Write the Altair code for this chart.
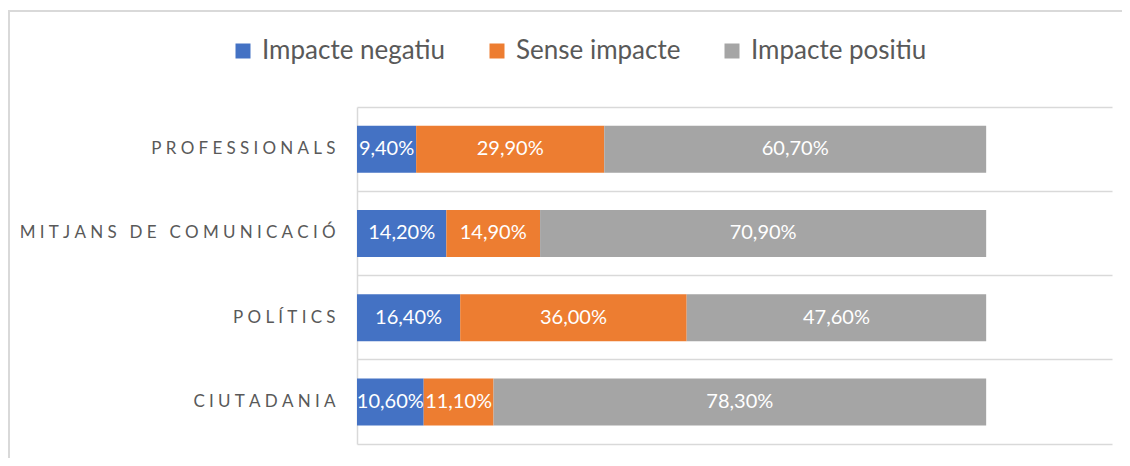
import altair as alt
import pandas as pd

categories = ["Professionals", "Mitjans de comunicació", "Polítics", "Ciutadania"]
series = ["Impacte negatiu", "Sense impacte", "Impacte positiu"]
negatiu = [9.4, 14.2, 16.4, 10.6]
sense = [29.9, 14.9, 36.0, 11.1]
positiu = [60.7, 70.9, 47.6, 78.3]
colors = ["#4472C4", "#ED7D31", "#A5A5A5"]

rows = []
for i, cat in enumerate(categories):
    for j, (s, vals) in enumerate(zip(series, [negatiu, sense, positiu])):
        v = vals[i]
        rows.append({
            "cat": cat.upper(),
            "series": s,
            "order": j,
            "value": v / 100.0,
            "label": f"{v:.2f}".replace(".", ",") + "%",
        })
df = pd.DataFrame(rows)
cat_order = [c.upper() for c in categories]

FONT = "Lato"
GRID = "#d9d9d9"
base = alt.Chart(df)

xscale = alt.Scale(domain=[0, 1.2], nice=False)

yaxis = alt.Axis(
    title=None, grid=True, bandPosition=0, gridColor=GRID, gridWidth=1.5,
    domain=True, domainColor=GRID, domainWidth=1.5, ticks=False,
    labelPadding=22, labelFont=FONT, labelFontSize=17, labelColor="#595959",
    labelLimit=400,
    labelExpr="join(split(datum.label, ''), '\u2009\u200a\u200a')",
)
yenc = alt.Y(
    "cat:N",
    sort=cat_order,
    scale=alt.Scale(paddingInner=0, paddingOuter=0),
    axis=yaxis,
)

bars = base.mark_bar(size=47).encode(
    x=alt.X(
        "value:Q", stack="zero",
        scale=xscale,
        axis=alt.Axis(title=None, labels=False, ticks=False, grid=False,
                      domain=True, domainColor=GRID, domainWidth=1.5),
    ),
    y=yenc,
    color=alt.Color(
        "series:N",
        scale=alt.Scale(domain=series, range=colors),
        sort=series,
        legend=alt.Legend(
            title=None, orient="none", direction="horizontal",
            legendX=-127, legendY=-69,
            symbolType="square", symbolSize=225, symbolStrokeWidth=0,
            symbolOpacity=1,
            labelFont=FONT, labelFontSize=26, labelColor="#595959",
            labelLimit=400, columnPadding=38, symbolOffset=0, labelOffset=6,
        ),
    ),
    order=alt.Order("order:Q"),
)

labels = base.transform_stack(
    stack="value", groupby=["cat"], as_=["x0", "x1"],
    sort=[alt.SortField("order", order="ascending")],
).transform_calculate(
    mid="(datum.x0 + datum.x1) / 2"
).mark_text(font=FONT, fontSize=20, color="white", baseline="middle", align="center").encode(
    x=alt.X("mid:Q", scale=xscale,
            axis=alt.Axis(title=None, labels=False, ticks=False, grid=False,
                          domain=True, domainColor=GRID, domainWidth=1.5)),
    y=alt.Y("cat:N", sort=cat_order, scale=alt.Scale(paddingInner=0, paddingOuter=0), axis=yaxis),
    text="label:N",
)

frame_df = pd.DataFrame({"a": [0]})
frame_top = alt.Chart(frame_df).mark_rule(color=GRID, strokeWidth=2).encode(
    x=alt.value(-349), x2=alt.value(800), y=alt.value(-96)
)
frame_left = alt.Chart(frame_df).mark_rule(color=GRID, strokeWidth=2).encode(
    x=alt.value(-348), y=alt.value(-97), y2=alt.value(400)
)

chart = alt.layer(frame_top, frame_left, bars, labels).properties(
    width=755, height=337,
    background="white",
    autosize=alt.AutoSizeParams(type="none"),
    padding={"left": 349, "top": 99, "right": 10, "bottom": 14},
).configure_view(strokeWidth=0, stroke="transparent").configure_axisX(grid=False)

chart.save("out.html", embed_options={"renderer": "svg", "actions": False})
